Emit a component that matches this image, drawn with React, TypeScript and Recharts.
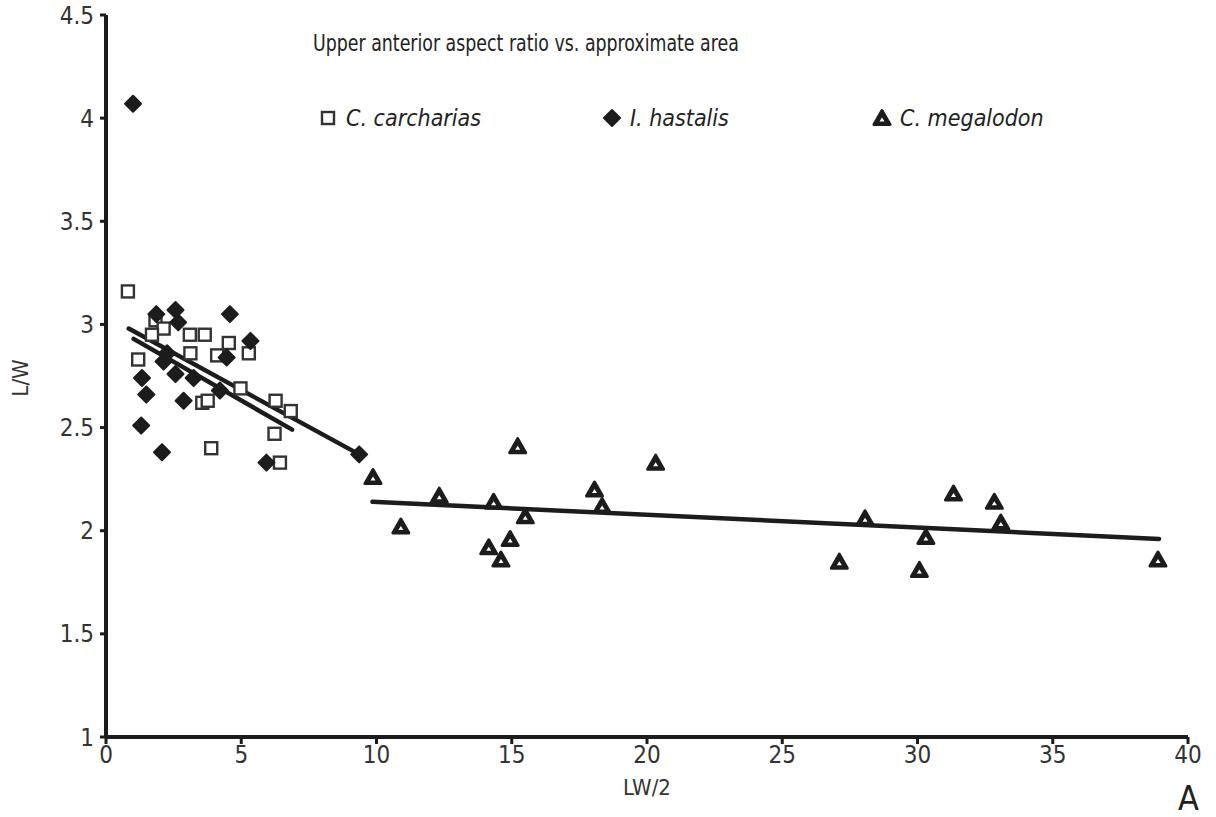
import { ScatterChart, Scatter, XAxis, YAxis, ReferenceLine, Label } from 'recharts';

const FONT = "'DejaVu Sans Condensed', 'Liberation Sans', sans-serif";
const INK = '#1c1c1c';

const xTicks = [0, 5, 10, 15, 20, 25, 30, 35, 40];
const yTicks = [1, 1.5, 2, 2.5, 3, 3.5, 4, 4.5];

// C. carcharias (open squares)
const carcharias = [
  { x: 0.81, y: 3.16 },
  { x: 1.83, y: 3.02 },
  { x: 2.13, y: 2.98 },
  { x: 1.7, y: 2.95 },
  { x: 1.19, y: 2.83 },
  { x: 3.1, y: 2.95 },
  { x: 3.65, y: 2.95 },
  { x: 3.12, y: 2.86 },
  { x: 4.11, y: 2.85 },
  { x: 4.54, y: 2.91 },
  { x: 5.28, y: 2.86 },
  { x: 4.97, y: 2.69 },
  { x: 3.56, y: 2.62 },
  { x: 3.76, y: 2.63 },
  { x: 6.27, y: 2.63 },
  { x: 6.83, y: 2.58 },
  { x: 6.23, y: 2.47 },
  { x: 3.89, y: 2.4 },
  { x: 6.43, y: 2.33 },
];

// I. hastalis (filled diamonds)
const hastalis = [
  { x: 1.0, y: 4.07 },
  { x: 1.86, y: 3.05 },
  { x: 2.57, y: 3.07 },
  { x: 2.67, y: 3.01 },
  { x: 4.58, y: 3.05 },
  { x: 5.34, y: 2.92 },
  { x: 2.26, y: 2.86 },
  { x: 2.13, y: 2.82 },
  { x: 4.46, y: 2.84 },
  { x: 1.33, y: 2.74 },
  { x: 1.49, y: 2.66 },
  { x: 2.57, y: 2.76 },
  { x: 3.24, y: 2.74 },
  { x: 4.21, y: 2.68 },
  { x: 2.87, y: 2.63 },
  { x: 1.3, y: 2.51 },
  { x: 2.07, y: 2.38 },
  { x: 5.93, y: 2.33 },
  { x: 9.36, y: 2.37 },
];

// C. megalodon (triangles)
const megalodon = [
  { x: 9.87, y: 2.26 },
  { x: 10.9, y: 2.02 },
  { x: 12.32, y: 2.17 },
  { x: 14.33, y: 2.14 },
  { x: 14.15, y: 1.92 },
  { x: 14.6, y: 1.86 },
  { x: 14.94, y: 1.96 },
  { x: 15.22, y: 2.41 },
  { x: 15.5, y: 2.07 },
  { x: 18.06, y: 2.2 },
  { x: 18.34, y: 2.12 },
  { x: 20.32, y: 2.33 },
  { x: 27.11, y: 1.85 },
  { x: 28.06, y: 2.06 },
  { x: 30.07, y: 1.81 },
  { x: 30.31, y: 1.97 },
  { x: 31.33, y: 2.18 },
  { x: 32.84, y: 2.14 },
  { x: 33.08, y: 2.04 },
  { x: 38.89, y: 1.86 },
];

// trend lines
const carchariasFit = [{ x: 1.02, y: 2.93 }, { x: 6.88, y: 2.49 }];
const hastalisFit = [{ x: 0.84, y: 2.98 }, { x: 9.36, y: 2.37 }];
const megalodonFit = [{ x: 9.85, y: 2.14 }, { x: 38.93, y: 1.96 }];

const SquareDot = (props: any) => {
  const { cx, cy } = props;
  return <rect x={cx - 6} y={cy - 6} width={12} height={12} fill="#fff" stroke="#333" strokeWidth={2.4} />;
};

const DiamondDot = (props: any) => {
  const { cx, cy } = props;
  return (
    <path
      d={`M${cx},${cy - 8} L${cx + 8},${cy} L${cx},${cy + 8} L${cx - 8},${cy} Z`}
      fill={INK}
      stroke={INK}
      strokeWidth={2}
      strokeLinejoin="round"
    />
  );
};

const TriangleDot = (props: any) => {
  const { cx, cy } = props;
  return (
    <g>
      <path
        d={`M${cx},${cy - 7.5} L${cx + 8},${cy + 6.5} L${cx - 8},${cy + 6.5} Z`}
        fill={INK}
        stroke={INK}
        strokeWidth={3}
        strokeLinejoin="round"
      />
      <path d={`M${cx},${cy - 0.5} L${cx + 2.5},${cy + 3.5} L${cx - 2.5},${cy + 3.5} Z`} fill="#fff" />
    </g>
  );
};

const legendItems = [
  { name: 'C. carcharias', left: 318, shape: 'square' },
  { name: 'I. hastalis', left: 602, shape: 'diamond' },
  { name: 'C. megalodon', left: 872, shape: 'triangle' },
];

function LegendMarker({ shape }: { shape: string }) {
  return (
    <svg width={20} height={20} style={{ marginRight: 8 }}>
      {shape === 'square' && <SquareDot cx={10} cy={10} />}
      {shape === 'diamond' && <DiamondDot cx={10} cy={10} />}
      {shape === 'triangle' && <TriangleDot cx={10} cy={10} />}
    </svg>
  );
}

const fitLine = (seg: { x: number; y: number }[], key: string) => (
  <ReferenceLine
    key={key}
    segment={[seg[0], seg[1]]}
    stroke={INK}
    strokeWidth={4.5}
    strokeLinecap="round"
  />
);

export default function App() {
  const tickStyle = { fill: '#333', fontSize: 24, fontFamily: FONT };
  return (
    <div style={{ position: 'absolute', left: 0, top: 0, width: 1216, height: 817, background: '#fff', fontFamily: FONT }}>
      <ScatterChart width={1216} height={817} margin={{ top: 15, right: 28, left: 0, bottom: 0 }}>
        <XAxis
          type="number"
          dataKey="x"
          domain={[0, 40]}
          ticks={xTicks}
          interval={0}
          height={80}
          axisLine={{ stroke: INK, strokeWidth: 4 }}
          tickLine={{ stroke: INK, strokeWidth: 3 }}
          tickSize={7}
          tickMargin={2}
          tick={tickStyle}
        >
          <Label value="LW/2" position="insideBottom" offset={22} style={{ fill: '#333', fontSize: 22, fontFamily: FONT }} />
        </XAxis>
        <YAxis
          type="number"
          dataKey="y"
          domain={[1, 4.5]}
          ticks={yTicks}
          interval={0}
          width={106}
          axisLine={{ stroke: INK, strokeWidth: 4 }}
          tickLine={{ stroke: INK, strokeWidth: 3 }}
          tickSize={6}
          tickMargin={6}
          tick={tickStyle}
        />
        <Scatter data={carcharias} shape={<SquareDot />} isAnimationActive={false} />
        {fitLine(carchariasFit, 'cf')}
        {fitLine(hastalisFit, 'hf')}
        {fitLine(megalodonFit, 'mf')}
        <Scatter data={hastalis} shape={<DiamondDot />} isAnimationActive={false} />
        <Scatter data={megalodon} shape={<TriangleDot />} isAnimationActive={false} />
      </ScatterChart>

      <div
        style={{ position: 'absolute', left: 313, top: 30, fontSize: 23, color: '#222', whiteSpace: 'nowrap', transform: 'scaleX(0.84)', transformOrigin: 'left center' }}
      >
        Upper anterior aspect ratio vs. approximate area
      </div>
      {legendItems.map((it) => (
        <div
          key={it.name}
          style={{ position: 'absolute', left: it.left, top: 105, display: 'flex', alignItems: 'center', fontSize: 23, fontStyle: 'italic', color: '#222', whiteSpace: 'nowrap' }}
        >
          <LegendMarker shape={it.shape} />
          {it.name}
        </div>
      ))}
      <div style={{ position: 'absolute', left: 2, top: 378, fontSize: 22, color: '#333', transform: 'translate(0,-50%) rotate(-90deg)', transformOrigin: 'center' }}>
        L/W
      </div>
      <div style={{ position: 'absolute', left: 1178, top: 778, fontSize: 34, color: '#222' }}>A</div>
    </div>
  );
}
